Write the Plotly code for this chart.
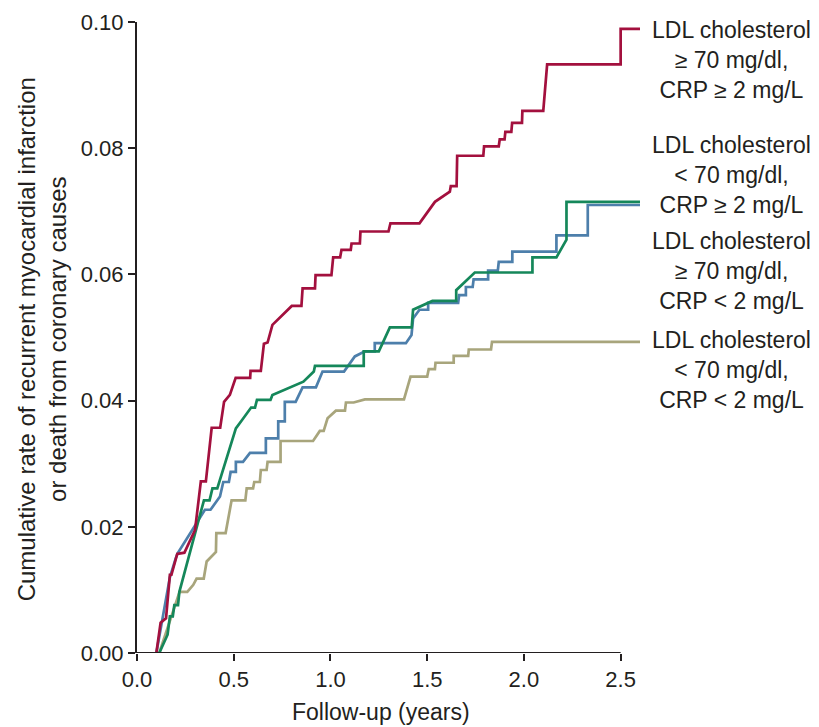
import plotly.graph_objects as go

# Series: vertices (years, cumulative rate)
red_x = [0.10, 0.122, 0.15, 0.17, 0.178, 0.208, 0.245, 0.29, 0.30, 0.33, 0.356, 0.386, 0.43, 0.45, 0.48, 0.51, 0.585, 0.587, 0.64, 0.656, 0.675, 0.70, 0.80, 0.85, 0.856, 0.92, 0.923, 1.005, 1.014, 1.05, 1.057, 1.105, 1.109, 1.152, 1.155, 1.30, 1.31, 1.46, 1.54, 1.617, 1.622, 1.652, 1.655, 1.79, 1.794, 1.87, 1.875, 1.90, 1.904, 1.935, 1.939, 1.99, 1.992, 2.10, 2.12, 2.50, 2.50, 2.60]
red_y = [0.0, 0.0048, 0.0055, 0.0124, 0.0124, 0.0157, 0.0159, 0.0190, 0.0195, 0.0272, 0.0272, 0.0357, 0.0357, 0.0398, 0.0409, 0.0436, 0.0436, 0.0447, 0.0447, 0.0490, 0.0492, 0.0520, 0.0550, 0.0550, 0.0578, 0.0578, 0.0599, 0.0599, 0.0627, 0.0627, 0.0639, 0.0639, 0.0649, 0.0649, 0.0668, 0.0668, 0.0681, 0.0681, 0.0715, 0.0731, 0.0740, 0.0740, 0.0788, 0.0788, 0.0803, 0.0803, 0.0814, 0.0814, 0.0826, 0.0826, 0.0840, 0.0840, 0.0859, 0.0859, 0.0933, 0.0933, 0.0989, 0.0989]

green_x = [0.115, 0.158, 0.17, 0.185, 0.193, 0.212, 0.219, 0.346, 0.375, 0.39, 0.415, 0.511, 0.545, 0.59, 0.61, 0.62, 0.69, 0.70, 0.86, 0.914, 0.92, 1.172, 1.172, 1.25, 1.307, 1.42, 1.427, 1.527, 1.65, 1.65, 1.746, 2.044, 2.044, 2.168, 2.22, 2.22, 2.60]
green_y = [0.0, 0.0029, 0.0058, 0.0058, 0.0076, 0.0076, 0.0097, 0.0242, 0.0242, 0.0261, 0.0261, 0.0356, 0.0370, 0.0389, 0.0389, 0.0401, 0.0401, 0.0409, 0.0430, 0.0446, 0.0455, 0.0455, 0.0478, 0.0478, 0.0516, 0.0516, 0.0544, 0.0558, 0.0558, 0.0575, 0.0603, 0.0603, 0.0627, 0.0627, 0.0655, 0.0715, 0.0715]

blue_x = [0.10, 0.17, 0.20, 0.21, 0.351, 0.38, 0.429, 0.446, 0.475, 0.484, 0.511, 0.511, 0.548, 0.584, 0.666, 0.666, 0.73, 0.73, 0.764, 0.764, 0.82, 0.856, 0.925, 0.959, 1.07, 1.126, 1.178, 1.229, 1.229, 1.39, 1.419, 1.427, 1.46, 1.505, 1.505, 1.66, 1.665, 1.70, 1.70, 1.735, 1.74, 1.815, 1.815, 1.865, 1.87, 1.94, 1.94, 2.168, 2.168, 2.33, 2.33, 2.60]
blue_y = [0.0, 0.0120, 0.0150, 0.0158, 0.0227, 0.0227, 0.0248, 0.0271, 0.0271, 0.0287, 0.0287, 0.0303, 0.0303, 0.0317, 0.0317, 0.0340, 0.0340, 0.0367, 0.0367, 0.0398, 0.0398, 0.0421, 0.0421, 0.0446, 0.0446, 0.0470, 0.0478, 0.0478, 0.0491, 0.0491, 0.0504, 0.0530, 0.0544, 0.0544, 0.0555, 0.0555, 0.0567, 0.0567, 0.0580, 0.0580, 0.0592, 0.0592, 0.0606, 0.0606, 0.0620, 0.0620, 0.0636, 0.0636, 0.0662, 0.0662, 0.0710, 0.0710]

tan_x = [0.115, 0.22, 0.26, 0.291, 0.308, 0.345, 0.36, 0.408, 0.41, 0.458, 0.489, 0.56, 0.567, 0.60, 0.606, 0.635, 0.64, 0.67, 0.675, 0.742, 0.742, 0.91, 0.945, 0.965, 0.985, 1.028, 1.075, 1.08, 1.12, 1.178, 1.38, 1.414, 1.50, 1.508, 1.54, 1.543, 1.637, 1.637, 1.712, 1.715, 1.83, 1.835, 2.60]
tan_y = [0.0, 0.0097, 0.0097, 0.0108, 0.0118, 0.0118, 0.0145, 0.0160, 0.0190, 0.0190, 0.0242, 0.0242, 0.0261, 0.0261, 0.0271, 0.0271, 0.0290, 0.0290, 0.0303, 0.0303, 0.0336, 0.0336, 0.0352, 0.0352, 0.0372, 0.0384, 0.0384, 0.0397, 0.0397, 0.0402, 0.0402, 0.0438, 0.0438, 0.0450, 0.0450, 0.0460, 0.0460, 0.0471, 0.0471, 0.0481, 0.0481, 0.0493, 0.0493]

labels = [
    "LDL cholesterol<br>≥ 70 mg/dl,<br>CRP ≥ 2 mg/L",
    "LDL cholesterol<br>< 70 mg/dl,<br>CRP ≥ 2 mg/L",
    "LDL cholesterol<br>≥ 70 mg/dl,<br>CRP < 2 mg/L",
    "LDL cholesterol<br>< 70 mg/dl,<br>CRP < 2 mg/L",
]
label_y = [0.0939, 0.0758, 0.0605, 0.0448]

x_ticks = [0.0, 0.5, 1.0, 1.5, 2.0, 2.5]
x_ticklabels = ["0.0", "0.5", "1.0", "1.5", "2.0", "2.5"]
y_ticks = [0.0, 0.02, 0.04, 0.06, 0.08, 0.10]
y_ticklabels = ["0.00", "0.02", "0.04", "0.06", "0.08", "0.10"]

FONT = "Liberation Sans, Arial, sans-serif"
INK = "#231f20"
RED = "#a3103e"
GREEN = "#15875a"
BLUE = "#4d7fab"
TAN = "#a8a57c"

fig = go.Figure()
for xs, ys, col in [(tan_x, tan_y, TAN), (blue_x, blue_y, BLUE), (green_x, green_y, GREEN), (red_x, red_y, RED)]:
    fig.add_trace(go.Scatter(x=xs, y=ys, mode="lines", line=dict(color=col, width=2.7),
                             showlegend=False, hoverinfo="skip"))

# x-axis baseline only up to 2.5
fig.add_shape(type="line", xref="x", yref="y", x0=0, x1=2.5, y0=0, y1=0,
              line=dict(color=INK, width=2.2), layer="above")

annotations = []
for txt, yy in zip(labels, label_y):
    annotations.append(dict(text=txt, xref="paper", yref="y", x=1.182, y=yy,
                            xanchor="center", yanchor="middle", showarrow=False,
                            align="center", font=dict(family=FONT, size=23, color=INK)))
annotations.append(dict(text="Follow-up (years)", xref="x", yref="paper", x=1.26, y=-0.094,
                        xanchor="center", yanchor="middle", showarrow=False,
                        font=dict(family=FONT, size=23, color=INK)))
annotations.append(dict(text="Cumulative rate of recurrent myocardial infarction<br>or death from coronary causes",
                        xref="paper", yref="paper", x=-0.189, y=0.497, textangle=-90,
                        xanchor="center", yanchor="middle", showarrow=False, align="center",
                        font=dict(family=FONT, size=24, color=INK)))

fig.update_layout(
    width=811, height=719,
    margin=dict(l=129, r=179, t=14, b=74, autoexpand=False),
    paper_bgcolor="white", plot_bgcolor="white",
    font=dict(family=FONT, size=22, color=INK),
    annotations=annotations,
    xaxis=dict(range=[0, 2.6], tickvals=x_ticks, ticktext=x_ticklabels, ticks="outside",
               ticklen=7, tickwidth=1.5, tickcolor=INK, showline=False, showgrid=False,
               zeroline=False, automargin=False, tickfont=dict(family=FONT, size=22, color=INK)),
    yaxis=dict(range=[0, 0.1], tickvals=y_ticks, ticktext=y_ticklabels, ticks="outside",
               ticklen=7, tickwidth=1.5, tickcolor=INK, showline=True, linecolor=INK,
               linewidth=2.2, showgrid=False, zeroline=False, automargin=False,
               tickfont=dict(family=FONT, size=22, color=INK)),
)

fig.write_html("out.html")
